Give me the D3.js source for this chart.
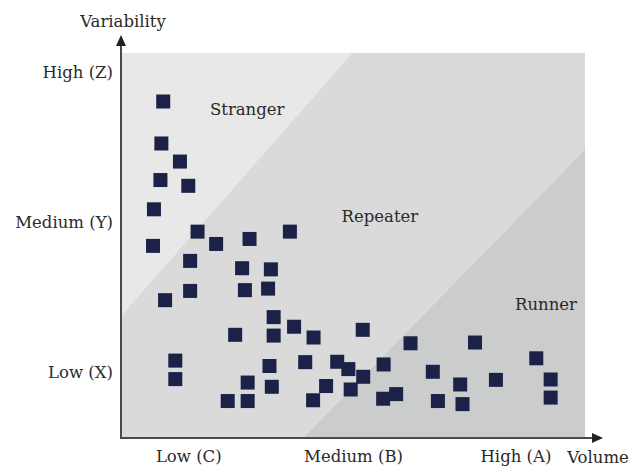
<!DOCTYPE html>
<html>
<head>
<meta charset="utf-8">
<script src="https://cdn.jsdelivr.net/npm/d3@7"></script>
<style>
  body { margin: 0; background: #fff; }
  svg text { font-family: "DejaVu Serif", serif; fill: #2a2a2a; }
</style>
</head>
<body>
<div id="chart"></div>
<script>
// data (volume / variability, 0-100)
var volume = [9.1, 8.7, 12.7, 8.5, 14.5, 7.1, 16.5, 20.5, 27.7, 36.4,
              6.9, 14.9, 26.1, 32.3, 14.9, 26.7, 31.7, 9.5, 32.9, 37.3,
              24.6, 32.9, 41.5, 52.1, 11.7, 11.7, 32.0, 39.7, 46.6, 49.0,
              52.2, 27.3, 32.5, 44.2, 49.5, 23.0, 27.3, 41.4, 56.6, 62.4,
              76.3, 67.2, 73.1, 80.8, 89.5, 92.6, 92.6, 56.5, 59.3, 68.3, 73.6];
var variability = [87.4, 76.5, 71.8, 67.0, 65.5, 59.4, 53.6, 50.4, 51.7, 53.6,
                   49.9, 46.0, 44.1, 43.8, 38.2, 38.4, 38.8, 35.8, 31.4, 28.9,
                   26.8, 26.6, 26.1, 28.1, 20.1, 15.3, 18.7, 19.7, 19.8, 17.9,
                   15.9, 14.4, 13.3, 13.5, 12.6, 9.6, 9.6, 9.8, 19.1, 24.6,
                   24.8, 17.2, 13.9, 15.1, 20.7, 15.2, 10.5, 10.2, 11.4, 9.6, 8.8];

var xTicks = [14.5, 50, 85];
var xTickLabels = ["Low (C)", "Medium (B)", "High (A)"];
var yTicks = [95, 56, 17];
var yTickLabels = ["High (Z)", "Medium (Y)", "Low (X)"];

// zones: polygons in data units
var zoneNames = ["Stranger", "Repeater", "Runner"];
var zoneColors = ["#e8e8e8", "#dadada", "#cbcccc"];
var zonePolys = [
  [[0, 100], [49.8, 100], [0, 31.7]],
  [[0, 31.7], [49.8, 100], [100, 100], [100, 75], [39.2, 0], [0, 0]],
  [[39.2, 0], [100, 75], [100, 0]]
];
var zoneLabelPos = [[27.2, 84], [55.8, 56.2], [91.6, 33.2]];

var width = 631, height = 468;
var fs = "16.5px";

var x = d3.scaleLinear().domain([0, 100]).range([121, 585]);
var y = d3.scaleLinear().domain([0, 100]).range([438, 53]);

var svg = d3.select("#chart").append("svg")
  .attr("width", width)
  .attr("height", height);

svg.selectAll("polygon.zone")
  .data(zonePolys)
  .enter().append("polygon")
    .attr("class", "zone")
    .attr("points", function(d) {
      return d.map(function(p) { return x(p[0]) + "," + y(p[1]); }).join(" ");
    })
    .style("fill", function(d, i) { return zoneColors[i]; });

svg.selectAll("text.zone")
  .data(zoneNames)
  .enter().append("text")
    .attr("class", "zone")
    .attr("x", function(d, i) { return x(zoneLabelPos[i][0]); })
    .attr("y", function(d, i) { return y(zoneLabelPos[i][1]); })
    .attr("text-anchor", "middle")
    .style("font-size", fs)
    .text(function(d) { return d; });

// squares
var sq = 14;
svg.selectAll("rect.pt")
  .data(volume)
  .enter().append("rect")
    .attr("class", "pt")
    .attr("width", sq)
    .attr("height", sq)
    .attr("x", function(d) { return x(d) - sq / 2; })
    .attr("y", function(d, i) { return y(variability[i]) - sq / 2; })
    .style("fill", "#1b2147");

// axes
var xAxis = d3.axisBottom(x)
  .tickValues(xTicks)
  .tickSize(0)
  .tickPadding(12)
  .tickFormat(function(d, i) { return xTickLabels[i]; });

var yAxis = d3.axisLeft(y)
  .tickValues(yTicks)
  .tickSize(0)
  .tickPadding(8)
  .tickFormat(function(d, i) { return yTickLabels[i]; });

var gx = svg.append("g").attr("transform", "translate(0,438)").call(xAxis);
var gy = svg.append("g").attr("transform", "translate(121,0)").call(yAxis);
gx.select(".domain").remove();
gy.select(".domain").remove();
svg.selectAll(".tick text")
  .style("font-family", "DejaVu Serif, serif")
  .style("font-size", fs)
  .style("fill", "#2a2a2a");

// arrow lines
svg.append("line")
  .attr("x1", 121).attr("y1", 438)
  .attr("x2", 121).attr("y2", 44)
  .style("stroke", "#4a4a4a")
  .style("stroke-width", 2);
svg.append("path")
  .attr("d", "M121,35 L116,46 L126,46 Z")
  .style("fill", "#222");

svg.append("line")
  .attr("x1", 120).attr("y1", 438)
  .attr("x2", 593).attr("y2", 438)
  .style("stroke", "#4a4a4a")
  .style("stroke-width", 2);
svg.append("path")
  .attr("d", "M603,438 L592,433 L592,443 Z")
  .style("fill", "#222");

svg.append("text")
  .attr("x", 123).attr("y", 27)
  .attr("text-anchor", "middle")
  .style("font-size", fs)
  .text("Variability");

svg.append("text")
  .attr("x", 598).attr("y", 463)
  .attr("text-anchor", "middle")
  .style("font-size", fs)
  .text("Volume");
</script>
</body>
</html>
